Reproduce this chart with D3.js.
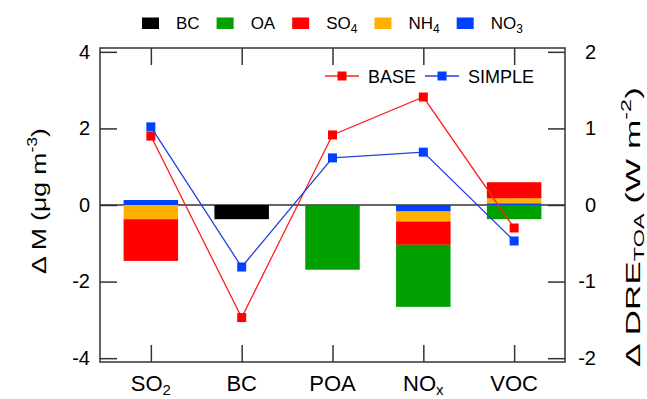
<!DOCTYPE html>
<html>
<head>
<meta charset="utf-8">
<script src="https://cdn.jsdelivr.net/npm/d3@7"></script>
<style>
  html, body { margin: 0; padding: 0; background: #fff; }
  svg { display: block; font-family: "Liberation Sans", Arial, sans-serif; }
</style>
</head>
<body>
<svg id="chart" width="647" height="399"></svg>
<script>
// ---------- data ----------
const categories = ["SO", "BC", "POA", "NO", "VOC"];
const categorySubs = ["2", "", "", "x", ""];

// ΔM (μg m-3) by species (left axis)
const BC  = [0,     -0.37,  0,     0,     0];
const OA  = [0,      0,    -1.67, -1.62, -0.37];
const SO4 = [-1.09,  0,    -0.02, -0.61,  0.42];
const NH4 = [-0.37,  0,     0,    -0.26,  0.13];
const NO3 = [0.13,   0,     0,    -0.17,  0.045];

// ΔDRE_TOA (W m-2) (right axis)
const BASE   = [0.90, -1.47, 0.915, 1.41, -0.30];
const SIMPLE = [1.02, -0.81, 0.615, 0.69, -0.47];

const leftTicks  = [4, 2, 0, -2, -4];
const rightTicks = [2, 1, 0, -1, -2];

const speciesLegend = [
  { key: "BC",  main: "BC", sub: "",  color: "#000000" },
  { key: "OA",  main: "OA", sub: "",  color: "#00A000" },
  { key: "SO4", main: "SO", sub: "4", color: "#FF0000" },
  { key: "NH4", main: "NH", sub: "4", color: "#FFB000" },
  { key: "NO3", main: "NO", sub: "3", color: "#0040FF" }
];
const stackOrder = ["NO3", "NH4", "SO4", "OA", "BC"];
const seriesInfo = [
  { name: "BASE",   values: BASE,   color: "#FF0000", line: "#FF2020" },
  { name: "SIMPLE", values: SIMPLE, color: "#0040FF", line: "#2040E0" }
];

// ---------- layout ----------
const svg = d3.select("#chart");
const L = 100, R = 565, T = 48, B = 362;
const axisColor = "#333";
const tickLen = 17;

const x = d3.scaleLinear().domain([-0.56, categories.length - 1 + 0.56]).range([L, R]);
const yL = d3.scaleLinear().domain([-4.1, 4.1]).range([B, T]);
const yR = d3.scaleLinear().domain([-2.05, 2.05]).range([B, T]);
const barW = x(0.6) - x(0);

const colorOf = {};
speciesLegend.forEach(s => colorOf[s.key] = s.color);

// zero line
svg.append("line")
  .attr("x1", L).attr("x2", R)
  .attr("y1", yL(0)).attr("y2", yL(0))
  .attr("stroke", axisColor).attr("stroke-width", 1.5);

// stacked bars
const rows = categories.map((c, i) => ({ i, BC: BC[i], OA: OA[i], SO4: SO4[i], NH4: NH4[i], NO3: NO3[i] }));
const stacked = d3.stack().keys(stackOrder).offset(d3.stackOffsetDiverging)(rows);
svg.append("g").selectAll("g").data(stacked).join("g")
  .attr("fill", d => colorOf[d.key])
  .selectAll("rect").data(d => d).join("rect")
  .attr("x", d => x(d.data.i) - barW / 2)
  .attr("width", barW)
  .attr("y", d => yL(Math.max(d[0], d[1])))
  .attr("height", d => Math.abs(yL(d[0]) - yL(d[1])));

// lines + markers
const lineGen = d3.line().x((d, i) => x(i)).y(d => yR(d));
seriesInfo.forEach(s => {
  svg.append("path").datum(s.values)
    .attr("d", lineGen).attr("fill", "none")
    .attr("stroke", s.line).attr("stroke-width", 1.3);
  svg.append("g").selectAll("rect").data(s.values).join("rect")
    .attr("x", (d, i) => x(i) - 4.5).attr("y", d => yR(d) - 4.5)
    .attr("width", 9).attr("height", 9).attr("fill", s.color);
});

// ---------- axes ----------
const fmt = d => d3.format("d")(d).replace("−", "-");
const gL = svg.append("g").attr("transform", `translate(${L},0)`)
  .call(d3.axisLeft(yL).tickValues(leftTicks).tickSize(-tickLen).tickPadding(10).tickFormat(fmt));
const gR = svg.append("g").attr("transform", `translate(${R},0)`)
  .call(d3.axisRight(yR).tickValues(rightTicks).tickSize(-tickLen).tickPadding(31).tickFormat(fmt));
gR.selectAll("text").attr("text-anchor", "end");
const catIdx = categories.map((c, i) => i);
const gB = svg.append("g").attr("transform", `translate(0,${B})`)
  .call(d3.axisBottom(x).tickValues(catIdx).tickSize(-tickLen).tickFormat(""));
const gT = svg.append("g").attr("transform", `translate(0,${T})`)
  .call(d3.axisTop(x).tickValues(catIdx).tickSize(-tickLen).tickFormat(""));
[gL, gR, gB, gT].forEach(g => {
  g.select(".domain").remove();
  g.selectAll(".tick line").attr("stroke", axisColor).attr("stroke-width", 1.5);
  g.selectAll("text").attr("font-size", 20).attr("fill", "#000")
    .attr("font-family", "'Liberation Sans', Arial, sans-serif");
});

// frame
svg.append("rect").attr("x", L).attr("y", T).attr("width", R - L).attr("height", B - T)
  .attr("fill", "none").attr("stroke", axisColor).attr("stroke-width", 1.5);

// category labels
const catLabels = svg.append("g").selectAll("text").data(categories).join("text")
  .attr("x", (d, i) => x(i)).attr("y", 391)
  .attr("text-anchor", "middle").attr("font-size", 22).attr("fill", "#000");
catLabels.append("tspan").text(d => d);
catLabels.append("tspan").text((d, i) => categorySubs[i])
  .attr("font-size", 15).attr("dy", 4);

// ---------- axis titles (stretched along the text direction as in the reference) ----------
function stretchTitle(sel, cx, cy, targetLen) {
  const w = sel.node().getComputedTextLength();
  const s = targetLen / w;
  sel.attr("transform", `translate(${cx},${cy}) rotate(-90) scale(${s},1)`);
}
const leftTitle = svg.append("text")
  .attr("text-anchor", "middle").attr("font-size", 21).attr("fill", "#000");
leftTitle.append("tspan").text("Δ M (μg m");
leftTitle.append("tspan").text("-3").attr("font-size", 14).attr("dy", -9);
leftTitle.append("tspan").text(")").attr("dy", 9);
stretchTitle(leftTitle, 46, 201, 146);

const rightTitle = svg.append("text")
  .attr("text-anchor", "middle").attr("font-size", 21).attr("fill", "#000");
rightTitle.append("tspan").text("Δ DRE");
rightTitle.append("tspan").text("TOA").attr("font-size", 14).attr("dy", 4);
rightTitle.append("tspan").text(" (W m").attr("dy", -4);
rightTitle.append("tspan").text("-2").attr("font-size", 14).attr("dy", -9);
rightTitle.append("tspan").text(")").attr("dy", 9);
stretchTitle(rightTitle, 640, 227, 280);

// ---------- top legend (species) ----------
let lx = 142;
const legTop = svg.append("g");
speciesLegend.forEach(s => {
  legTop.append("rect").attr("x", lx).attr("y", 17.5).attr("width", 17).attr("height", 11.5)
    .attr("fill", s.color);
  const t = legTop.append("text").attr("x", lx + 34).attr("y", 28.5)
    .attr("font-size", 17).attr("fill", "#000");
  t.append("tspan").text(s.main);
  if (s.sub) t.append("tspan").text(s.sub).attr("font-size", 12).attr("dy", 4);
  lx = lx + 34 + t.node().getComputedTextLength() + 17;
});

// ---------- inner legend (lines) ----------
let ix = 325;
const legIn = svg.append("g");
seriesInfo.forEach(s => {
  legIn.append("line").attr("x1", ix).attr("x2", ix + 34).attr("y1", 76).attr("y2", 76)
    .attr("stroke", s.line).attr("stroke-width", 1.3);
  legIn.append("rect").attr("x", ix + 17 - 4.5).attr("y", 76 - 4.5).attr("width", 9).attr("height", 9)
    .attr("fill", s.color);
  const t = legIn.append("text").attr("x", ix + 43).attr("y", 82.5)
    .attr("font-size", 18).attr("fill", "#000").text(s.name);
  ix = ix + 43 + t.node().getComputedTextLength() + 9;
});
</script>
</body>
</html>
